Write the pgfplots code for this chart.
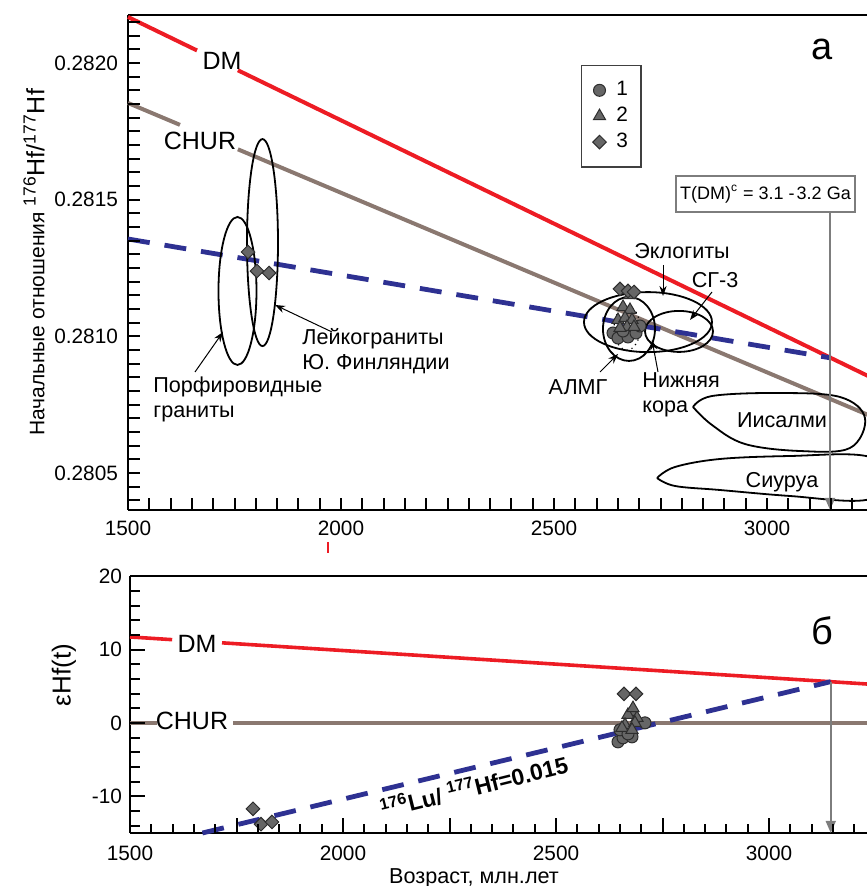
\documentclass[border=0pt]{standalone}
\usepackage{fontspec}
\setmainfont{Liberation Sans}
\usepackage{pgfplots}
\pgfplotsset{compat=1.18}
\usetikzlibrary{arrows.meta}

\definecolor{dmred}{RGB}{237,28,36}
\definecolor{churbrown}{RGB}{138,120,112}
\definecolor{lublue}{RGB}{46,49,146}
\definecolor{mkfill}{RGB}{102,102,102}
\definecolor{mkdraw}{RGB}{45,45,45}
\definecolor{arrgray}{RGB}{125,125,125}

\newcommand{\lab}{\fontsize{10.8}{13}\selectfont}
\newcommand{\biglab}{\fontsize{12.5}{15}\selectfont}

\pgfplotsset{
  gr1/.style={only marks, mark=*, mark size=3pt,
    mark options={fill=mkfill, draw=mkdraw, line width=0.5pt}},
  gr2/.style={only marks, mark=triangle*, mark size=3.5pt,
    mark options={fill=mkfill, draw=mkdraw, line width=0.5pt}},
  gr3/.style={only marks, mark=square*, mark size=2.4pt,
    mark options={rotate=45, fill=mkfill, draw=mkdraw, line width=0.5pt}},
  panel/.style={scale only axis, width=372pt, xmin=1500, xmax=3246.5,
    axis x line*=bottom, axis y line*=left,
    axis line style={line width=1.1pt, -}, tick align=inside, clip=false,
    major tick length=0pt, minor tick length=0pt,
    tick label style={font=\fontsize{10.4}{12}\selectfont},
    /pgf/number format/assume math mode=true,
    /pgf/number format/set thousands separator={}},
}

\begin{document}
\begin{tikzpicture}

% ---------- panel a ----------
\begin{axis}[panel, name=top, at={(64pt,188pt)}, anchor=south west,
  height=247.5pt, ymin=0.2803647, ymax=0.2821756,
  xtick={1500,2000,2500,3000},
  ytick={0.2805,0.281,0.2815,0.282},
  scaled y ticks=false,
  yticklabel style={/pgf/number format/fixed, /pgf/number format/precision=4,
    /pgf/number format/fixed zerofill, xshift=-1.5pt},
  xticklabel style={yshift=-1.8pt},
  ylabel={{\fontsize{10.5}{12}\selectfont Начальные отношения }\textsuperscript{176}Hf/\textsuperscript{177}Hf},
  ylabel style={at={(axis description cs:-0.1263,0.5)}, anchor=center,
    font=\fontsize{12.5}{14}\selectfont},
  legend entries={1,2,3},
  legend image code/.code={\draw[#1] plot coordinates {(0pt,0pt)};},
  legend style={at={(0.6089,0.899)}, anchor=north west, draw=black!75,
    line width=0.7pt, inner xsep=5.5pt, inner ysep=7pt, row sep=2.2pt,
    font=\fontsize{10.4}{12}\selectfont, nodes={inner sep=1pt},
    cells={anchor=west}, /tikz/column 1/.style={column sep=4pt}},
]
\addlegendimage{gr1}
\addlegendimage{gr2}
\addlegendimage{gr3}
\draw[line width=1.1pt] (rel axis cs:0,1) -- (rel axis cs:1,1);

% DM and CHUR evolution lines (gaps for the labels)
\addplot[dmred, line width=2pt] coordinates {(1500,0.2821683) (1662,0.2820458)};
\addplot[dmred, line width=2pt] coordinates {(1758,0.2819733) (3246,0.2808483)};
\addplot[churbrown, line width=2pt] coordinates {(1500,0.2818537) (1622,0.2817736)};
\addplot[churbrown, line width=2pt] coordinates {(1758,0.2816842) (3246,0.2807067)};
\addplot[lublue, line width=2.4pt, dash pattern=on 11pt off 7.5pt]
  coordinates {(1500,0.2813561) (3150,0.2809209)};

% fields
\draw[line width=0.9pt] (axis cs:1757,0.281166) ellipse [x radius=9.5pt, y radius=37pt];
\draw[line width=0.9pt] (axis cs:1815.7,0.281343) ellipse [x radius=7.75pt, y radius=51.75pt];
\draw[line width=0.9pt] (axis cs:2720.6,0.281052) ellipse [x radius=32pt, y radius=15pt];
\draw[line width=0.9pt] (axis cs:2793.4,0.281018) ellipse [x radius=17pt, y radius=10.25pt];
\draw[line width=0.9pt] (axis cs:2676,0.281027) ellipse [x radius=13pt, y radius=16pt];
\draw[line width=0.6pt, dotted] (axis cs:2671.4,0.2810305) ellipse [x radius=6.5pt, y radius=11pt];
\addplot[black, line width=0.9pt, smooth, tension=0.6] coordinates {
  (2826.3,0.2807415) (2870.9,0.2807817) (3023.5,0.2807927) (3171.3,0.2807781)
  (3230.0,0.2807012) (3194.8,0.2805915) (3077.5,0.2805805) (2948.3,0.2806061)
  (2870.9,0.2806756) (2826.3,0.2807415)};
\addplot[black, line width=0.9pt, smooth, tension=0.6] coordinates {
  (2741.8,0.2804817) (2784.0,0.2805220) (2889.7,0.2805513) (3054.0,0.2805622)
  (3232.4,0.2805622) (3312.2,0.2804817) (3232.4,0.2804013) (3054.0,0.2804159)
  (2889.7,0.2804378) (2784.0,0.2804525) (2741.8,0.2804817)};

% T(DM) arrow
\draw[arrgray, line width=0.8pt, -{Triangle[length=6pt,width=5pt]}]
  (axis cs:3148,0.2814549) -- (axis cs:3148,0.2803647);

% samples
\addplot[gr1] coordinates {(2638.5,0.2810122) (2650.2,0.2809939) (2673.7,0.2809976)
  (2662.0,0.2810195) (2692.5,0.2810122) (2701.9,0.2810378)};
\addplot[gr2] coordinates {(2662.0,0.2811073) (2678.4,0.2810964) (2650.2,0.2810598)
  (2666.7,0.2810671) (2683.1,0.2810598) (2671.4,0.2810342) (2654.9,0.2810305)
  (2687.8,0.2810342) (2678.4,0.2811512)};
\addplot[gr3] coordinates {(1781.7,0.2813085) (1802.8,0.2812390) (1831.0,0.2812317)
  (2654.9,0.2811732) (2673.7,0.2811659) (2687.8,0.2811622)};
\end{axis}

% ---------- panel b ----------
\begin{axis}[panel, name=bot, at={(65pt,26.5pt)}, anchor=south west,
  height=128.5pt, ymin=-15, ymax=20,
  xtick={1500,1750,...,3250}, xticklabels={1500,,2000,,2500,,3000,,},
  ytick={-10,0,10,20},
  xticklabel style={yshift=-2.8pt}, yticklabel style={xshift=-0.5pt},
  xlabel={Возраст, млн.лет},
  xlabel style={at={(axis description cs:0.4624,-0.175)}, anchor=center,
    font=\fontsize{10.8}{13}\selectfont},
  ylabel={εHf(t)},
  ylabel style={at={(axis description cs:-0.0887,0.615)}, anchor=center,
    font=\fontsize{13}{15}\selectfont},
]
\draw[line width=1.1pt] (rel axis cs:0,1) -- (rel axis cs:1,1);
\addplot[dmred, line width=1.8pt] coordinates {(1500,11.7) (1599,11.33)};
\addplot[dmred, line width=1.8pt] coordinates {(1716,10.90) (3246,5.23)};
\addplot[churbrown, line width=2pt] coordinates {(1500,0) (1563,0)};
\addplot[churbrown, line width=2pt] coordinates {(1742,0) (3246,0)};
\addplot[lublue, line width=2.4pt, dash pattern=on 11pt off 7.5pt]
  coordinates {(1670,-15) (3145,5.61)};
\draw[arrgray, line width=0.8pt, -{Triangle[length=6pt,width=5pt]}]
  (axis cs:3145,5.61) -- (axis cs:3145,-15);

\addplot[gr1] coordinates {(2708.9,0.0) (2645.5,-2.59) (2657.3,-2.04)
  (2678.4,-1.91) (2650.2,-0.95) (2669.0,-1.5)};
\addplot[gr2] coordinates {(2680.7,1.5) (2669.0,1.09) (2690.1,0.68) (2662.0,-0.27)
  (2685.4,0.0) (2654.9,-0.68) (2678.4,-0.95) (2680.7,2.0)};
\addplot[gr3] coordinates {(1788.7,-11.7) (1807.5,-13.8) (1833.3,-13.5)
  (2659.6,3.95) (2687.8,3.95)};
\end{axis}

% ---------- ticks, labels and pointers (pixel grid of the reference) ----------
\begin{scope}[x=0.5pt, y=-0.5pt, shift={(0pt,443pt)}]
% tick marks, inside
\foreach \ti in {-3,...,32}
  \draw[black, line width=1pt] (128,{63+\ti*13.6667}) -- ++(12,0);
\foreach \ti in {1,...,34}
  \draw[black, line width=1pt] ({128+\ti*21.3},510) -- ++(0,-12);
\foreach \te in {-14,-12,...,20} {
  \pgfmathsetmacro\len{ifthenelse(mod(\te,10)==0,15,10)}
  \draw[black, line width=1pt] (130,{723-\te*7.343}) -- ++(\len,0);
}
\foreach \ti in {1,...,34} {
  \pgfmathsetmacro\len{ifthenelse(mod(\ti,5)==0,15,9)}
  \draw[black, line width=1pt] ({130+\ti*21.3},833) -- ++(0,-\len);
}

\node[anchor=base, inner sep=0, font=\biglab] at (222,70) {DM};
\node[anchor=base, inner sep=0, font=\biglab] at (200,150) {CHUR};
\node[anchor=base, inner sep=0, font=\biglab] at (197,653) {DM};
\node[anchor=base, inner sep=0, font=\biglab] at (192,730) {CHUR};
\node[anchor=base, inner sep=0, font=\fontsize{19}{22}\selectfont] at (822,60) {а};
\node[anchor=base, inner sep=0, font=\fontsize{19}{22}\selectfont] at (822,645) {б};

\node[anchor=base west, inner sep=0, font=\lab] at (153,393) {Порфировидные};
\node[anchor=base west, inner sep=0, font=\lab] at (153,418) {граниты};
\node[anchor=base west, inner sep=0, font=\lab] at (302,345) {Лейкограниты};
\node[anchor=base west, inner sep=0, font=\lab] at (302,370) {Ю. Финляндии};
\node[anchor=base, inner sep=0, font=\lab] at (682,259) {Эклогиты};
\node[anchor=base, inner sep=0, font=\lab] at (715,288) {СГ-3};
\node[anchor=base, inner sep=0, font=\lab] at (578,395) {АЛМГ};
\node[anchor=base west, inner sep=0, font=\lab] at (642,388) {Нижняя};
\node[anchor=base west, inner sep=0, font=\lab] at (642,413) {кора};
\node[anchor=base, inner sep=0, font=\lab] at (782,428) {Иисалми};
\node[anchor=base, inner sep=0, font=\lab] at (782,488) {Сиуруа};

\draw[arrgray, line width=0.8pt, fill=white] (676,176) rectangle (855,212);
\node[font=\fontsize{9}{11}\selectfont, inner sep=0] at (765.5,194)
  {T(DM)\textsuperscript{c} = 3.1 -\kern1pt3.2 Ga};

\node[rotate=14, font=\bfseries\fontsize{11.5}{13}\selectfont, inner sep=0] at (474,786)
  {\textsuperscript{176}Lu/ \textsuperscript{177}Hf=0.015};

\begin{scope}[line width=0.5pt, -{Stealth[length=5pt,width=3.6pt]}]
\draw (195,372) -- (223,332);
\draw (332,332) -- (275,305);
\draw (663,265) -- (663,296);
\draw (712,292) -- (690,320);
\draw (600,372) -- (618,354);
\draw (658,372) -- (652,340);
\end{scope}

\draw[dmred, line width=0.6pt] (328,542) -- (328,553);
\end{scope}

\pgfresetboundingbox
\path[use as bounding box] (0,0) rectangle (433pt,443pt);
\end{tikzpicture}
\end{document}
